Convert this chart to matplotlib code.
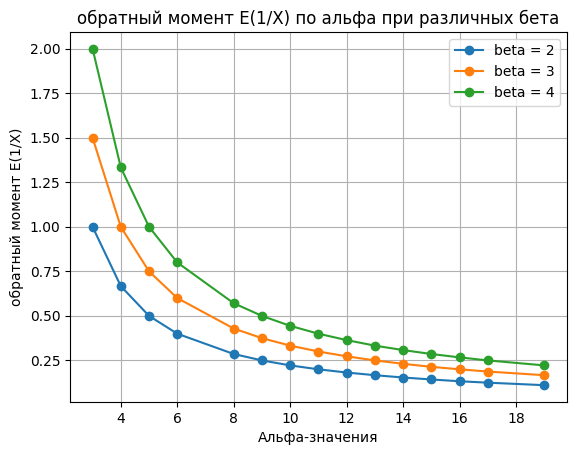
import matplotlib.pyplot as plt

alpha = [3, 4, 5, 6, 8, 9, 10, 11, 12, 13, 14, 15, 16, 17, 19]
betas = [2, 3, 4]
inv_moment = {
    2: [1.0, 0.667, 0.5, 0.4, 0.286, 0.25, 0.222, 0.2, 0.182, 0.167, 0.154, 0.143, 0.133, 0.125, 0.111],
    3: [1.5, 1.0, 0.75, 0.6, 0.429, 0.375, 0.333, 0.3, 0.273, 0.25, 0.231, 0.214, 0.2, 0.1875, 0.167],
    4: [2.0, 1.333, 1.0, 0.8, 0.571, 0.5, 0.444, 0.4, 0.364, 0.333, 0.308, 0.286, 0.267, 0.25, 0.222],
}

fig, ax = plt.subplots(figsize=(5.76, 4.55), dpi=100)
for b in betas:
    ax.plot(alpha, inv_moment[b], marker='o', label='beta = %d' % b)

ax.set_title('обратный момент E(1/X) по альфа при различных бета')
ax.set_xlabel('Альфа-значения')
ax.set_ylabel('обратный момент E(1/X)')
ax.grid(True)
ax.legend()
fig.subplots_adjust(left=0.1215, right=0.984, top=0.930, bottom=0.1165)
plt.savefig('out.png', dpi=100)
